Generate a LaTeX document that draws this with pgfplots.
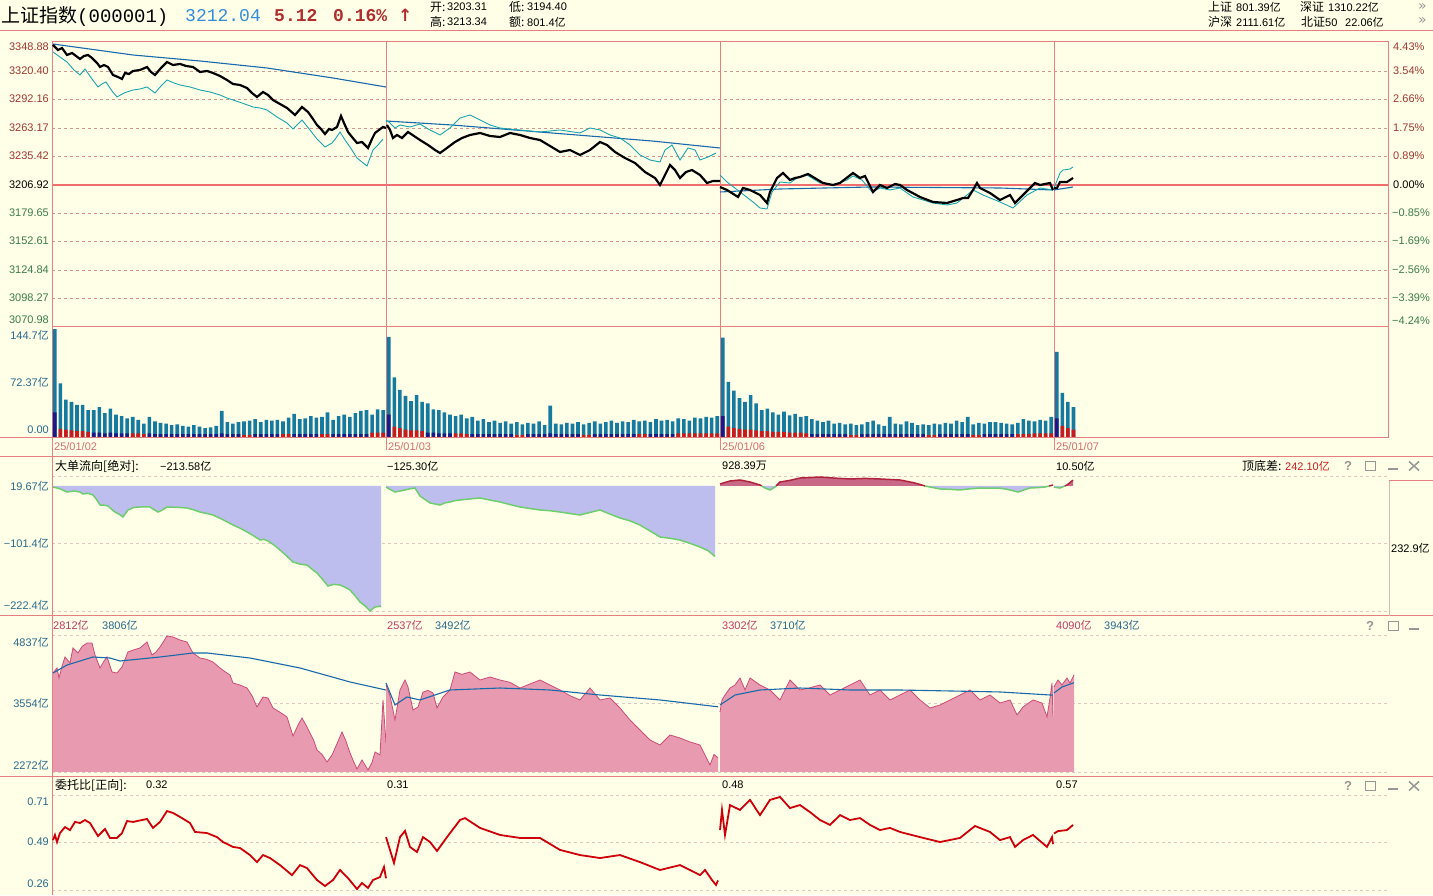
\documentclass[border=0pt]{standalone}
\usepackage{pgfplots}
\usepackage{pgfplotstable}
\pgfplotsset{compat=1.18}
\usepackage{fontspec}
\setmainfont{Liberation Sans}
\newfontfamily\cjk{Noto Sans CJK SC}
\newfontfamily\mono{Liberation Mono}
\newfontfamily\dejavu{DejaVu Sans}

\definecolor{bg}{RGB}{255,255,232}
\definecolor{frame}{RGB}{228,128,128}
\definecolor{gridp}{RGB}{214,150,140}
\definecolor{gridl}{RGB}{222,200,195}
\definecolor{upc}{RGB}{160,55,50}
\definecolor{dnc}{RGB}{60,125,70}
\definecolor{cyanl}{RGB}{25,165,175}
\definecolor{bluel}{RGB}{25,105,170}
\definecolor{volc}{RGB}{22,122,160}
\definecolor{voln}{RGB}{25,25,140}
\definecolor{volr}{RGB}{205,25,25}
\definecolor{tealt}{RGB}{40,105,140}
\definecolor{violetf}{RGB}{190,190,238}
\definecolor{greenl}{RGB}{110,205,110}
\definecolor{posf}{RGB}{200,105,135}
\definecolor{posl}{RGB}{175,35,60}
\definecolor{pinkf}{RGB}{232,155,176}
\definecolor{pinkl}{RGB}{205,75,120}
\definecolor{redl}{RGB}{205,0,10}
\definecolor{datec}{RGB}{215,110,110}
\definecolor{icon}{RGB}{150,150,150}
\definecolor{headblue}{RGB}{50,140,220}
\definecolor{headred}{RGB}{175,45,45}
\definecolor{magt}{RGB}{190,60,100}
\definecolor{zeroline}{RGB}{240,110,110}
\definecolor{valred}{RGB}{200,30,30}

\newcommand{\lab}{\fontsize{11}{12}\selectfont}
\newcommand{\cj}[1]{{\cjk\fontsize{12}{12}\selectfont #1}}
\newcommand{\yi}{{\cjk 亿}}

\pgfplotsset{
 panel/.style={scale only axis, width=1336pt, xmin=0, xmax=1336, anchor=south west,
   axis line style={draw=none}, xtick=\empty, ytick=\empty, major tick length=0pt,
   clip mode=individual, no markers},
}

\pgfplotstableread{
v nv rd
144.7 33 0
72 0 11
50 0 10
47 0 9
43 0 8
43 0 8
36 0 7
36 6 0
40 6 0
32 5 0
38 6 0
30 5 0
28 5 0
25 5 0
27 0 5
23 0 5
18 0 4
27 5 0
21 4 0
19 4 0
18 4 0
16 4 0
17 4 0
15 4 0
14 4 0
16 4 0
14 4 0
12 4 0
13 4 0
15 4 0
35 5 0
20 4 0
18 4 0
20 4 0
21 0 3
22 0 3
24 4 0
20 4 0
23 4 0
22 4 0
23 4 0
21 0 4
26 0 4
31 4 0
24 4 0
25 4 0
28 4 0
26 4 0
27 0 4
33 0 4
23 4 0
28 4 0
30 4 0
27 4 0
32 4 0
35 4 0
36 4 0
30 0 6
37 0 6
36 0 6
134 30 0
80 0 14
63 0 12
55 0 10
48 0 9
56 0 9
47 0 8
45 6 0
37 6 0
36 5 0
33 5 0
30 5 0
28 0 5
30 0 5
25 0 4
27 4 0
22 4 0
24 4 0
20 4 0
22 4 0
19 4 0
21 4 0
18 4 0
20 0 3
17 0 3
19 4 0
18 4 0
21 4 0
16 4 0
42 5 0
18 4 0
17 4 0
19 4 0
18 4 0
20 4 0
17 0 3
19 0 3
21 4 0
18 4 0
20 4 0
22 4 0
19 4 0
21 4 0
20 4 0
23 4 0
21 0 4
22 0 4
20 4 0
24 4 0
22 4 0
23 4 0
21 4 0
25 0 5
24 0 5
22 0 5
26 0 5
25 0 5
27 0 5
26 0 5
28 0 5
133 28 0
74 0 14
62 0 12
52 0 11
47 0 10
56 0 10
45 0 9
36 0 8
38 0 8
33 0 7
30 0 7
34 0 7
29 0 6
31 0 6
27 0 6
28 0 5
24 4 0
22 4 0
20 4 0
22 4 0
18 4 0
19 4 0
17 4 0
18 0 3
16 0 3
17 4 0
20 4 0
22 4 0
17 4 0
15 4 0
27 4 0
18 4 0
17 4 0
21 4 0
19 4 0
16 4 0
17 4 0
16 0 3
18 0 3
17 4 0
19 4 0
18 4 0
22 4 0
20 4 0
27 4 0
17 0 3
19 0 3
18 4 0
20 4 0
20 4 0
19 4 0
18 4 0
17 4 0
19 0 4
24 0 4
22 0 4
21 0 5
23 0 5
22 0 5
27 0 5
114 25 0
59 0 15
47 0 12
40 0 10
}\voltab

\begin{document}
\begin{tikzpicture}[x=1pt,y=1pt]
\begin{scope}[yshift=895pt, y=-1pt]
\fill[bg] (0,0) rectangle (1433,895);
\begin{scope}[gridp, dash pattern=on 3pt off 3pt, line width=0.8pt]
\foreach \g in {71.5,99.4,128.4,156.3,213,241,270,298.3} \draw (52,\g) -- (1388,\g);
\end{scope}
\begin{scope}[gridl, dash pattern=on 3pt off 3pt, line width=0.8pt]
\foreach \g in {476,543,611,635,703,772,795,842,890} \draw (52,\g) -- (1388,\g);
\end{scope}
\draw[zeroline, line width=2pt] (52,184.7) -- (1388,184.7);
\begin{scope}[frame, line width=1pt]
\draw (0,30.5) -- (1433,30.5);
\draw (52,42) rectangle (1388,438);
\draw (52,327) -- (1388,327);
\draw (0,438) -- (1388,438);
\draw (0,457) -- (1433,457);
\draw (0,616) -- (1433,616);
\draw (0,776) -- (1433,776);
\draw (52,42) -- (52,895);
\foreach \d in {386,720,1054} \draw (\d,42) -- (\d,438);
\foreach \d in {52,386,720,1054} \draw (\d,438) -- (\d,450);
\end{scope}
\draw[gridp!70, line width=0.8pt] (1389,480) -- (1389,616);
\draw[frame, line width=0.8pt] (1389,480) -- (1433,480);
\end{scope}

% ---------------- price panel  (px 42..327)
\begin{axis}[panel, at={(52pt,568pt)}, height=285pt, ymin=3064.6, ymax=3349.6]
\addplot[bluel, line width=1.1pt] coordinates {(1,3347.6)(81,3336.6)(148,3330.6)(215,3323.6)(281,3313.6)(334,3304.6)};
\addplot[bluel, line width=1.1pt] coordinates {(334,3270.6)(400,3266.6)(500,3258.6)(600,3250.6)(668,3243.6)};
\addplot[bluel, line width=1.1pt] coordinates {(668,3199.6)(728,3202.6)(818,3204.6)(948,3203.6)(1001,3201.6)};
\addplot[bluel, line width=1.1pt] coordinates {(1002,3201.6)(1021,3204.6)};
\addplot[cyanl, line width=0.9pt] coordinates {(1,3339.6)(8,3334.6)(15,3329.6)(22,3321.6)(28,3316.6)(33,3322.6)(40,3312.6)(46,3304.6)(50,3307.6)(54,3309.6)(60,3300.6)(65,3294.6)(72,3298.6)(81,3301.6)(88,3302.6)(95,3304.6)(103,3298.6)(109,3305.6)(115,3311.6)(122,3308.6)(128,3306.6)(138,3304.6)(148,3301.6)(158,3299.6)(168,3296.6)(175,3293.6)(181,3291.6)(190,3288.6)(201,3284.6)(208,3283.6)(215,3281.6)(225,3274.6)(235,3268.6)(241,3262.6)(250,3271.6)(254,3266.6)(258,3261.6)(265,3252.6)(273,3244.6)(280,3248.6)(284,3253.6)(288,3259.6)(293,3251.6)(298,3244.6)(305,3233.6)(310,3229.6)(315,3225.6)(321,3241.6)(326,3246.6)(331,3252.6)};
\addplot[cyanl, line width=0.9pt] coordinates {(334,3271.6)(338,3268.6)(343,3263.6)(348,3266.6)(358,3264.6)(368,3267.6)(378,3261.6)(388,3256.6)(398,3263.6)(408,3273.6)(418,3276.6)(428,3271.6)(438,3266.6)(448,3263.6)(468,3261.6)(488,3259.6)(508,3261.6)(528,3258.6)(538,3263.6)(548,3261.6)(558,3256.6)(568,3253.6)(578,3246.6)(588,3236.6)(598,3231.6)(608,3229.6)(613,3241.6)(620,3246.6)(628,3231.6)(636,3243.6)(643,3241.6)(648,3231.6)(656,3234.6)(664,3238.6)};
\addplot[cyanl, line width=0.9pt] coordinates {(668,3216.6)(675,3209.6)(688,3199.6)(701,3189.6)(708,3183.6)(715,3182.6)(720,3199.6)(728,3209.6)(738,3208.6)(745,3213.6)(755,3216.6)(768,3208.6)(781,3206.6)(795,3211.6)(801,3215.6)(810,3211.6)(820,3199.6)(828,3203.6)(838,3201.6)(848,3203.6)(861,3194.6)(881,3188.6)(895,3186.6)(905,3188.6)(915,3196.6)(921,3201.6)(931,3196.6)(948,3189.6)(961,3183.6)(975,3196.6)(988,3203.6)(1001,3201.6)};
\addplot[cyanl, line width=0.9pt] coordinates {(1002,3203.6)(1008,3218.6)(1011,3221.6)(1018,3222.6)(1021,3224.6)};
\addplot[black, line width=2.2pt] coordinates {(1,3346.6)(6,3341.6)(10,3343.6)(15,3336.6)(20,3338.6)(24,3335.6)(28,3332.6)(32,3335.6)(36,3336.6)(40,3333.6)(45,3328.6)(48,3324.6)(52,3326.6)(56,3324.6)(61,3316.6)(66,3314.6)(70,3312.6)(73,3318.6)(77,3317.6)(81,3320.6)(88,3321.6)(95,3324.6)(99,3319.6)(103,3316.6)(109,3323.6)(115,3329.6)(121,3326.6)(128,3327.6)(134,3325.6)(141,3324.6)(148,3319.6)(155,3320.6)(161,3318.6)(168,3315.6)(175,3311.6)(181,3307.6)(188,3306.6)(195,3303.6)(200,3298.6)(205,3294.6)(211,3299.6)(216,3296.6)(221,3291.6)(228,3287.6)(235,3283.6)(243,3276.6)(250,3284.6)(256,3279.6)(261,3272.6)(265,3266.6)(269,3262.6)(273,3257.6)(277,3262.6)(280,3261.6)(285,3264.6)(289,3275.6)(292,3268.6)(296,3259.6)(300,3254.6)(305,3248.6)(310,3249.6)(313,3246.6)(316,3243.6)(320,3252.6)(323,3258.6)(327,3261.6)(331,3264.6)(334,3263.6)};
\addplot[black, line width=2.2pt] coordinates {(335,3266.6)(338,3261.6)(341,3253.6)(345,3256.6)(350,3253.6)(356,3259.6)(362,3255.6)(368,3251.6)(376,3246.6)(383,3241.6)(388,3238.6)(395,3243.6)(403,3249.6)(410,3253.6)(418,3256.6)(428,3258.6)(438,3255.6)(448,3254.6)(458,3258.6)(468,3256.6)(478,3253.6)(488,3251.6)(498,3245.6)(508,3239.6)(518,3241.6)(528,3236.6)(538,3241.6)(548,3249.6)(555,3246.6)(563,3239.6)(573,3233.6)(583,3228.6)(593,3219.6)(603,3213.6)(608,3206.6)(613,3216.6)(618,3226.6)(623,3221.6)(628,3213.6)(634,3219.6)(640,3221.6)(648,3216.6)(655,3208.6)(661,3210.6)(668,3210.6)};
\addplot[black, line width=2.2pt] coordinates {(668,3204.6)(675,3201.6)(686,3194.6)(691,3203.6)(698,3201.6)(708,3196.6)(715,3188.6)(718,3199.6)(725,3213.6)(731,3218.6)(738,3211.6)(743,3213.6)(748,3214.6)(756,3217.6)(761,3214.6)(771,3208.6)(781,3206.6)(788,3208.6)(801,3218.6)(808,3213.6)(813,3215.6)(821,3199.6)(828,3206.6)(835,3203.6)(843,3207.6)(848,3206.6)(855,3201.6)(868,3194.6)(881,3189.6)(895,3188.6)(905,3191.6)(911,3193.6)(916,3193.6)(921,3201.6)(925,3208.6)(928,3203.6)(938,3198.6)(948,3191.6)(958,3196.6)(963,3188.6)(971,3196.6)(983,3208.6)(988,3206.6)(998,3208.6)(1001,3201.6)};
\addplot[black, line width=2.2pt] coordinates {(1002,3203.6)(1005,3203.6)(1008,3209.6)(1015,3209.6)(1021,3213.6)};
\end{axis}

% ---------------- volume panel (px 327..438)
\begin{axis}[panel, at={(52pt,457pt)}, height=111pt, xmin=0, xmax=240, ymin=-1.34, ymax=147.4]
\addplot[ybar, bar width=3.6pt, bar shift=0pt, fill=volc, draw=none] table[x expr=\coordindex+0.5, y=v] {\voltab};
\addplot[ybar, bar width=3.6pt, bar shift=0pt, fill=voln, draw=none] table[x expr=\coordindex+0.5, y=nv] {\voltab};
\addplot[ybar, bar width=3.6pt, bar shift=0pt, fill=volr, draw=none] table[x expr=\coordindex+0.5, y=rd] {\voltab};
\end{axis}

% ---------------- big order flow panel (px 457..616)
\begin{axis}[panel, at={(52pt,279pt)}, height=159pt, ymin=-231.3, ymax=51.6]
\addplot[fill=violetf, draw=none] coordinates {(1,-1.8)(8,-5)(15,-10.7)(22,-9)(28,-10.7)(31,-14.2)(36,-13)(41,-16.0)(45,-25)(48,-33.8)(52,-34)(56,-35.6)(60,-42)(63,-46.3)(67,-50)(71,-55.1)(73,-50)(76,-42.7)(82,-38)(88,-37.4)(93,-37)(98,-37.4)(102,-42)(106,-46.3)(110,-43)(115,-37.4)(125,-38)(135,-39.1)(141,-42)(148,-46.3)(155,-49)(161,-51.6)(171,-60)(181,-69.4)(188,-75)(195,-81.8)(202,-89)(208,-96.1)(212,-95)(216,-97.8)(222,-105)(228,-113.9)(235,-125)(241,-135.2)(248,-139)(255,-140.6)(260,-148)(265,-154.8)(270,-165)(276,-177.9)(282,-175)(288,-176.2)(293,-180)(298,-185.0)(303,-195)(308,-206.4)(313,-213)(318,-222.4)(321,-218)(323,-215.3)(329,-213.58)(329,0)(1,0)};
\addplot[greenl, line width=1.5pt] coordinates {(1,-1.8)(8,-5)(15,-10.7)(22,-9)(28,-10.7)(31,-14.2)(36,-13)(41,-16.0)(45,-25)(48,-33.8)(52,-34)(56,-35.6)(60,-42)(63,-46.3)(67,-50)(71,-55.1)(73,-50)(76,-42.7)(82,-38)(88,-37.4)(93,-37)(98,-37.4)(102,-42)(106,-46.3)(110,-43)(115,-37.4)(125,-38)(135,-39.1)(141,-42)(148,-46.3)(155,-49)(161,-51.6)(171,-60)(181,-69.4)(188,-75)(195,-81.8)(202,-89)(208,-96.1)(212,-95)(216,-97.8)(222,-105)(228,-113.9)(235,-125)(241,-135.2)(248,-139)(255,-140.6)(260,-148)(265,-154.8)(270,-165)(276,-177.9)(282,-175)(288,-176.2)(293,-180)(298,-185.0)(303,-195)(308,-206.4)(313,-213)(318,-222.4)(321,-218)(323,-215.3)(329,-213.58)};
\addplot[fill=violetf, draw=none] coordinates {(334,-1.8)(338,-6)(343,-10.7)(348,-9)(353,-7.1)(358,-5)(363,-3.6)(368,-17.8)(373,-24)(378,-30.2)(383,-32)(388,-33.8)(393,-30)(398,-28.5)(403,-26)(408,-24.9)(418,-23)(428,-21.3)(438,-25)(448,-28.5)(458,-33)(468,-37.4)(478,-40)(488,-42.7)(498,-44)(508,-46.3)(518,-49)(528,-51.6)(538,-47)(548,-42.7)(558,-50)(568,-56.9)(578,-62)(588,-69.4)(598,-80)(608,-90.7)(618,-93)(628,-96.1)(638,-102)(648,-108.5)(656,-115)(663,-125.3)(663,0)(334,0)};
\addplot[greenl, line width=1.5pt] coordinates {(334,-1.8)(338,-6)(343,-10.7)(348,-9)(353,-7.1)(358,-5)(363,-3.6)(368,-17.8)(373,-24)(378,-30.2)(383,-32)(388,-33.8)(393,-30)(398,-28.5)(403,-26)(408,-24.9)(418,-23)(428,-21.3)(438,-25)(448,-28.5)(458,-33)(468,-37.4)(478,-40)(488,-42.7)(498,-44)(508,-46.3)(518,-49)(528,-51.6)(538,-47)(548,-42.7)(558,-50)(568,-56.9)(578,-62)(588,-69.4)(598,-80)(608,-90.7)(618,-93)(628,-96.1)(638,-102)(648,-108.5)(656,-115)(663,-125.3)};
\addplot[fill=posf, draw=none] coordinates {(668,0)(668,3.6)(678,8.9)(688,10.7)(698,7.1)(708,1.8)(709.7,0)};
\addplot[fill=posf, draw=none] coordinates {(724,0)(728,7.1)(738,10)(748,14.2)(758,15)(768,16.0)(783,14)(798,12.5)(813,13.5)(828,12.5)(848,10.7)(863,5.3)(873,0)};
\addplot[fill=posf, draw=none] coordinates {(997,0)(1001,1.8)(1001,0)};
\addplot[fill=posf, draw=none] coordinates {(1012.7,0)(1015,1.8)(1021,10.5)(1021,0)};
\addplot[fill=violetf, draw=none] coordinates {(709.7,0)(713,-3.6)(718,-7.1)(723,-1.8)(724,0)};
\addplot[fill=violetf, draw=none] coordinates {(873,0)(888,-5.3)(898,-6)(908,-7.1)(918,-5)(928,-3.6)(938,-4)(948,-3.6)(958,-7.1)(966,-10.7)(972,-7)(978,-3.6)(985,-3)(993,-1.8)(997,0)};
\addplot[fill=violetf, draw=none] coordinates {(1002,0)(1002,-2)(1008,-3.6)(1012.7,0)};
\addplot[posl, line width=1.5pt] coordinates {(668,3.6)(678,8.9)(688,10.7)(698,7.1)(708,1.8)(709.7,0)};
\addplot[posl, line width=1.5pt] coordinates {(724,0)(728,7.1)(738,10)(748,14.2)(758,15)(768,16.0)(783,14)(798,12.5)(813,13.5)(828,12.5)(848,10.7)(863,5.3)(873,0)};
\addplot[posl, line width=1.5pt] coordinates {(997,0)(1001,1.8)};
\addplot[posl, line width=1.5pt] coordinates {(1012.7,0)(1015,1.8)(1021,10.5)};
\addplot[greenl, line width=1.5pt] coordinates {(709.7,0)(713,-3.6)(718,-7.1)(723,-1.8)(724,0)};
\addplot[greenl, line width=1.5pt] coordinates {(873,0)(888,-5.3)(898,-6)(908,-7.1)(918,-5)(928,-3.6)(938,-4)(948,-3.6)(958,-7.1)(966,-10.7)(972,-7)(978,-3.6)(985,-3)(993,-1.8)(997,0)};
\addplot[greenl, line width=1.5pt] coordinates {(1002,-2)(1008,-3.6)(1012.7,0)};
\end{axis}

% ---------------- turnover panel (px 616..776)
\begin{axis}[panel, at={(52pt,119pt)}, height=160pt, ymin=2196, ymax=5193]
\addplot[fill=pinkf, draw=none] coordinates {(1,2272)(1,4125)(5,4219)(7,4032)(10,4250)(13,4425)(18,4313)(21,4594)(26,4500)(30,4620)(35,4687)(40,4687)(43,4462)(48,4219)(52,4350)(55,4425)(60,4144)(65,4125)(70,4238)(76,4519)(82,4560)(88,4594)(95,4706)(100,4462)(104,4520)(108,4612)(115,4818)(121,4800)(128,4743)(135,4706)(141,4500)(148,4406)(155,4380)(161,4331)(168,4219)(173,4150)(178,4088)(181,3938)(188,3900)(195,3844)(200,3700)(205,3489)(211,3676)(216,3657)(221,3470)(228,3390)(235,3301)(241,2945)(246,3150)(250,3282)(254,3150)(258,3001)(262,2850)(265,2683)(270,2600)(275,2458)(280,2589)(285,2800)(290,3020)(294,2850)(298,2627)(302,2450)(305,2327)(310,2496)(316,2308)(320,2450)(323,2646)(328,2589)(331,3620)(334,2812)(334,2272)};
\addplot[pinkl, line width=0.8pt] coordinates {(1,4125)(5,4219)(7,4032)(10,4250)(13,4425)(18,4313)(21,4594)(26,4500)(30,4620)(35,4687)(40,4687)(43,4462)(48,4219)(52,4350)(55,4425)(60,4144)(65,4125)(70,4238)(76,4519)(82,4560)(88,4594)(95,4706)(100,4462)(104,4520)(108,4612)(115,4818)(121,4800)(128,4743)(135,4706)(141,4500)(148,4406)(155,4380)(161,4331)(168,4219)(173,4150)(178,4088)(181,3938)(188,3900)(195,3844)(200,3700)(205,3489)(211,3676)(216,3657)(221,3470)(228,3390)(235,3301)(241,2945)(246,3150)(250,3282)(254,3150)(258,3001)(262,2850)(265,2683)(270,2600)(275,2458)(280,2589)(285,2800)(290,3020)(294,2850)(298,2627)(302,2450)(305,2327)(310,2496)(316,2308)(320,2450)(323,2646)(328,2589)(331,3620)(334,2812)};
\addplot[fill=pinkf, draw=none] coordinates {(334,2272)(334,3900)(338,3700)(343,3245)(348,3807)(353,3994)(356,3863)(361,3432)(366,3488)(371,3769)(376,3800)(381,3751)(385,3470)(391,3676)(398,3807)(403,4144)(410,4100)(418,4144)(428,3994)(438,4050)(448,3994)(458,3950)(468,3844)(478,3920)(488,3994)(498,3900)(508,3807)(518,3700)(528,3620)(538,3844)(548,3620)(558,3657)(568,3470)(578,3245)(588,3058)(598,2870)(608,2777)(618,2964)(628,2908)(638,2833)(648,2777)(653,2589)(658,2402)(662,2600)(666,2537)(666,2272)};
\addplot[pinkl, line width=0.8pt] coordinates {(334,3900)(338,3700)(343,3245)(348,3807)(353,3994)(356,3863)(361,3432)(366,3488)(371,3769)(376,3800)(381,3751)(385,3470)(391,3676)(398,3807)(403,4144)(410,4100)(418,4144)(428,3994)(438,4050)(448,3994)(458,3950)(468,3844)(478,3920)(488,3994)(498,3900)(508,3807)(518,3700)(528,3620)(538,3844)(548,3620)(558,3657)(568,3470)(578,3245)(588,3058)(598,2870)(608,2777)(618,2964)(628,2908)(638,2833)(648,2777)(653,2589)(658,2402)(662,2600)(666,2537)};
\addplot[fill=pinkf, draw=none] coordinates {(668,2272)(668,3395)(670,3620)(673,3713)(678,3844)(683,3900)(688,4032)(693,3807)(698,4032)(708,3900)(718,3807)(728,3620)(738,3994)(748,3807)(758,3850)(768,3900)(778,3713)(788,3807)(798,3900)(808,3994)(818,3713)(828,3807)(838,3620)(848,3713)(858,3807)(868,3620)(878,3470)(888,3526)(898,3620)(908,3713)(918,3807)(928,3620)(938,3713)(948,3563)(958,3620)(965,3339)(971,3488)(981,3620)(990,3563)(995,3301)(998,3657)(1000,3938)(1001,3302)(1002,3302)(1002,2272)};
\addplot[pinkl, line width=0.8pt] coordinates {(668,3395)(670,3620)(673,3713)(678,3844)(683,3900)(688,4032)(693,3807)(698,4032)(708,3900)(718,3807)(728,3620)(738,3994)(748,3807)(758,3850)(768,3900)(778,3713)(788,3807)(798,3900)(808,3994)(818,3713)(828,3807)(838,3620)(848,3713)(858,3807)(868,3620)(878,3470)(888,3526)(898,3620)(908,3713)(918,3807)(928,3620)(938,3713)(948,3563)(958,3620)(965,3339)(971,3488)(981,3620)(990,3563)(995,3301)(998,3657)(1000,3938)(1001,3302)};
\addplot[fill=pinkf, draw=none] coordinates {(1001.5,2272)(1001.5,3863)(1006,3994)(1010,3900)(1015,4032)(1018,3938)(1022,4090)(1022,2272)};
\addplot[pinkl, line width=0.8pt] coordinates {(1002,3863)(1006,3994)(1010,3900)(1015,4032)(1018,3938)(1022,4090)};
\addplot[bluel, line width=1.1pt] coordinates {(1,4125)(15,4275)(41,4425)(58,4406)(68,4350)(108,4425)(141,4500)(155,4500)(198,4406)(248,4219)(298,3957)(334,3806)};
\addplot[bluel, line width=1.1pt] coordinates {(334,3938)(343,3526)(355,3676)(368,3620)(398,3807)(448,3844)(498,3807)(548,3713)(608,3620)(666,3492)};
\addplot[bluel, line width=1.1pt] coordinates {(668,3526)(683,3713)(708,3807)(748,3844)(798,3807)(848,3807)(948,3770)(1001,3710)};
\addplot[bluel, line width=1.1pt] coordinates {(1002,3751)(1010,3863)(1022,3943)};
\end{axis}

% ---------------- order ratio panel (px 776..895)
\begin{axis}[panel, at={(52pt,0pt)}, height=119pt, ymin=0.242, ymax=0.799]
\addplot[redl, line width=1.8pt] coordinates {(1,0.499)(3,0.523)(5,0.490)(8,0.532)(13,0.560)(18,0.546)(23,0.584)(28,0.579)(33,0.593)(38,0.579)(41,0.556)(46,0.518)(53,0.551)(58,0.509)(65,0.509)(70,0.532)(75,0.588)(81,0.584)(95,0.598)(101,0.556)(108,0.584)(115,0.635)(121,0.626)(130,0.602)(138,0.579)(143,0.537)(155,0.532)(165,0.513)(171,0.490)(181,0.467)(188,0.462)(198,0.429)(205,0.396)(211,0.429)(218,0.415)(228,0.382)(240,0.335)(248,0.382)(255,0.368)(265,0.312)(273,0.284)(281,0.312)(288,0.359)(296,0.321)(305,0.270)(310,0.298)(316,0.275)(321,0.312)(328,0.326)(332,0.373)(334,0.32)};
\addplot[redl, line width=1.8pt] coordinates {(334,0.513)(342,0.392)(348,0.513)(353,0.542)(358,0.467)(365,0.443)(371,0.513)(378,0.490)(385,0.448)(395,0.513)(408,0.593)(413,0.602)(428,0.556)(448,0.523)(468,0.509)(488,0.509)(508,0.453)(528,0.429)(548,0.415)(568,0.429)(588,0.396)(608,0.359)(628,0.382)(638,0.359)(648,0.335)(653,0.359)(660,0.312)(664,0.289)(666,0.31)};
\addplot[redl, line width=1.8pt] coordinates {(668,0.546)(670,0.640)(673,0.523)(678,0.663)(688,0.640)(698,0.687)(708,0.616)(718,0.687)(728,0.701)(738,0.649)(748,0.663)(758,0.630)(768,0.593)(778,0.570)(788,0.616)(798,0.593)(808,0.602)(818,0.570)(828,0.546)(838,0.556)(848,0.537)(868,0.513)(888,0.490)(908,0.509)(923,0.565)(938,0.537)(948,0.499)(958,0.513)(963,0.467)(971,0.499)(981,0.523)(995,0.467)(1000,0.513)(1001,0.48)};
\addplot[redl, line width=1.8pt] coordinates {(1002,0.53)(1006,0.541)(1015,0.546)(1021,0.57)};
\end{axis}

% ---------------- texts
\begin{scope}[yshift=895pt, y=-1pt]
\tikzset{lb/.style={font=\lab, inner sep=0pt}}
\node[anchor=west, inner sep=0pt] at (1,16) {\fontsize{19}{20}\selectfont\cjk 上证指数\mono(000001)};
\node[anchor=west, inner sep=0pt, headblue] at (185,16) {\fontsize{18}{20}\selectfont\mono 3212.04};
\node[anchor=west, inner sep=0pt, headred] at (274,16) {\fontsize{18}{20}\selectfont\mono\bfseries 5.12};
\node[anchor=west, inner sep=0pt, headred] at (333,16) {\fontsize{18}{20}\selectfont\mono\bfseries 0.16\%};
\node[anchor=west, inner sep=0pt, headred] at (398,15) {\fontsize{17}{20}\selectfont\dejavu\bfseries ↑};
\node[lb, anchor=west] at (430,7) {\cj{开:}};
\node[lb, anchor=west] at (447,7) {3203.31};
\node[lb, anchor=west] at (509,7) {\cj{低:}};
\node[lb, anchor=west] at (527,7) {3194.40};
\node[lb, anchor=west] at (430,22) {\cj{高:}};
\node[lb, anchor=west] at (447,22) {3213.34};
\node[lb, anchor=west] at (509,22) {\cj{额:}};
\node[lb, anchor=west] at (527,22) {801.4\yi};
\node[lb, anchor=west] at (1208,7) {\cj{上证}};
\node[lb, anchor=west] at (1236,7) {801.39\yi};
\node[lb, anchor=west] at (1300,7) {\cj{深证}};
\node[lb, anchor=west] at (1328,7) {1310.22\yi};
\node[lb, anchor=west] at (1208,22) {\cj{沪深}};
\node[lb, anchor=west] at (1236,22) {2111.61\yi};
\node[lb, anchor=west] at (1301,22) {\cj{北证}50};
\node[lb, anchor=west] at (1345,22) {22.06\yi};
\node[anchor=west, inner sep=0pt, icon] at (1418,7) {\fontsize{14}{14}\selectfont\dejavu »};
\node[anchor=west, inner sep=0pt, icon] at (1418,21) {\fontsize{14}{14}\selectfont\dejavu »};
\node[lb, anchor=east, upc] at (49,47) {3348.88};
\node[lb, anchor=east, upc] at (49,71) {3320.40};
\node[lb, anchor=east, upc] at (49,99) {3292.16};
\node[lb, anchor=east, upc] at (49,128) {3263.17};
\node[lb, anchor=east, upc] at (49,156) {3235.42};
\node[lb, anchor=east, black] at (49,185) {3206.92};
\node[lb, anchor=east, dnc] at (49,213) {3179.65};
\node[lb, anchor=east, dnc] at (49,241) {3152.61};
\node[lb, anchor=east, dnc] at (49,270) {3124.84};
\node[lb, anchor=east, dnc] at (49,298) {3098.27};
\node[lb, anchor=east, dnc] at (49,320) {3070.98};
\node[lb, anchor=west, upc] at (1393,47) {4.43\%};
\node[lb, anchor=west, upc] at (1393,71) {3.54\%};
\node[lb, anchor=west, upc] at (1393,99) {2.66\%};
\node[lb, anchor=west, upc] at (1393,128) {1.75\%};
\node[lb, anchor=west, upc] at (1393,156) {0.89\%};
\node[lb, anchor=west, black] at (1393,185) {0.00\%};
\node[lb, anchor=west, dnc] at (1392,213) {−0.85\%};
\node[lb, anchor=west, dnc] at (1392,241) {−1.69\%};
\node[lb, anchor=west, dnc] at (1392,270) {−2.56\%};
\node[lb, anchor=west, dnc] at (1392,298) {−3.39\%};
\node[lb, anchor=west, dnc] at (1392,321) {−4.24\%};
\node[lb, anchor=east, tealt] at (49,335) {144.7\yi};
\node[lb, anchor=east, tealt] at (49,382) {72.37\yi};
\node[lb, anchor=east, tealt] at (49,430) {0.00};
\node[lb, anchor=west, datec] at (54,447) {25/01/02};
\node[lb, anchor=west, datec] at (388,447) {25/01/03};
\node[lb, anchor=west, datec] at (722,447) {25/01/06};
\node[lb, anchor=west, datec] at (1056,447) {25/01/07};
\node[lb, anchor=west] at (55,466) {\cj{大单流向[绝对]:}};
\node[lb, anchor=west] at (160,466) {−213.58\yi};
\node[lb, anchor=west] at (387,466) {−125.30\yi};
\node[lb, anchor=west] at (722,466) {928.39{\cjk 万}};
\node[lb, anchor=west] at (1056,466) {10.50\yi};
\node[lb, anchor=west] at (1242,466) {\cj{顶底差:}};
\node[lb, anchor=west, valred] at (1285,466) {242.10\yi};
\node[lb, anchor=east, tealt] at (49,486) {19.67\yi};
\node[lb, anchor=east, tealt] at (49,543) {−101.4\yi};
\node[lb, anchor=east, tealt] at (49,605) {−222.4\yi};
\node[lb, anchor=west] at (1391,548) {232.9\yi};
\node[lb, anchor=west, magt] at (53,625) {2812\yi};
\node[lb, anchor=west, tealt] at (102,625) {3806\yi};
\node[lb, anchor=west, magt] at (387,625) {2537\yi};
\node[lb, anchor=west, tealt] at (435,625) {3492\yi};
\node[lb, anchor=west, magt] at (722,625) {3302\yi};
\node[lb, anchor=west, tealt] at (770,625) {3710\yi};
\node[lb, anchor=west, magt] at (1056,625) {4090\yi};
\node[lb, anchor=west, tealt] at (1104,625) {3943\yi};
\node[lb, anchor=east, tealt] at (49,642) {4837\yi};
\node[lb, anchor=east, tealt] at (49,703) {3554\yi};
\node[lb, anchor=east, tealt] at (49,765) {2272\yi};
\node[lb, anchor=west] at (55,785) {\cj{委托比[正向]:}};
\node[lb, anchor=west] at (146,785) {0.32};
\node[lb, anchor=west] at (387,785) {0.31};
\node[lb, anchor=west] at (722,785) {0.48};
\node[lb, anchor=west] at (1056,785) {0.57};
\node[lb, anchor=east, tealt] at (49,802) {0.71};
\node[lb, anchor=east, tealt] at (49,842) {0.49};
\node[lb, anchor=east, tealt] at (49,884) {0.26};
\foreach \yy in {466,786} {
  \node[lb, icon, font=\fontsize{13}{13}\selectfont\bfseries] at (1348,\yy) {?};
  \draw[icon, line width=1pt] (1365,\yy-4.5) rectangle (1375,\yy+4.5);
  \draw[icon, line width=1.6pt] (1388,\yy+3) -- (1398,\yy+3);
  \draw[icon, line width=1.5pt] (1409,\yy-4.5) -- (1419,\yy+4.5) (1409,\yy+4.5) -- (1419,\yy-4.5);
}
\node[lb, icon, font=\fontsize{13}{13}\selectfont\bfseries] at (1370,626) {?};
\draw[icon, line width=1pt] (1388,621.5) rectangle (1398,630.5);
\draw[icon, line width=1.6pt] (1409,629) -- (1419,629);
\end{scope}
\pgfresetboundingbox
\path[use as bounding box] (0,0) rectangle (1433,895);
\end{tikzpicture}
\end{document}
